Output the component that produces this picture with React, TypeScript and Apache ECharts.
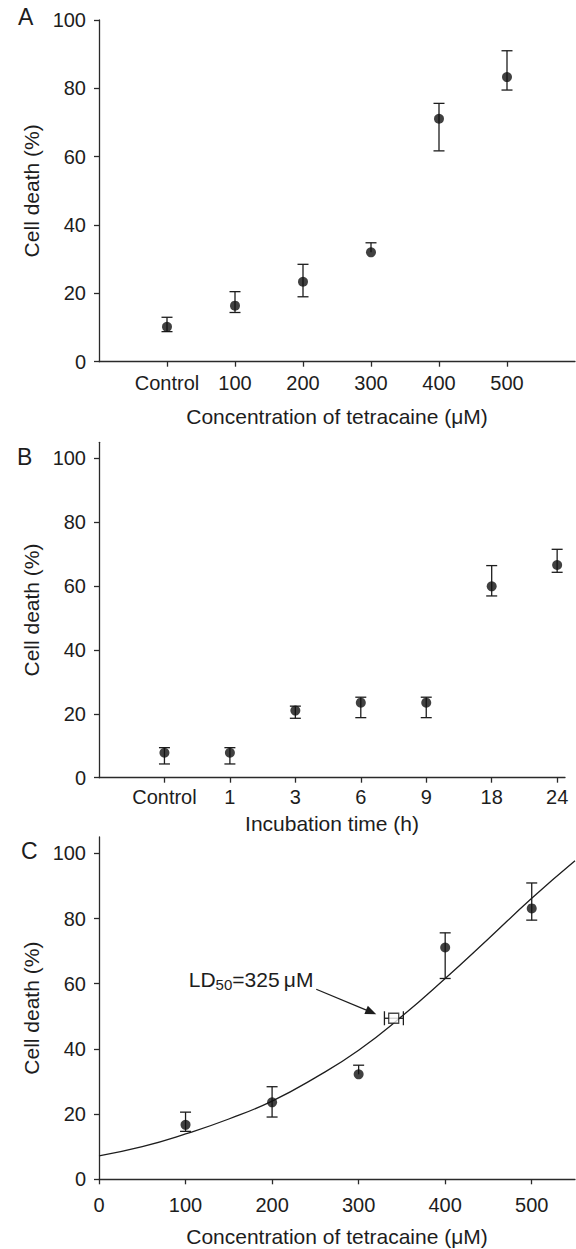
import React, { useEffect, useRef } from "react";
import * as echarts from "echarts";

// Panel A: concentration series
const catA = ["Control", "100", "200", "300", "400", "500"];
const meanA = [10.2, 16.4, 23.4, 32.0, 71.1, 83.3];
const lowA = [8.8, 14.4, 19.0, 32.0, 61.7, 79.5];
const highA = [13.0, 20.5, 28.5, 34.8, 75.6, 91.0];

// Panel B: incubation time series
const catB = ["Control", "1", "3", "6", "9", "18", "24"];
const meanB = [7.8, 7.8, 21.0, 23.5, 23.5, 59.9, 66.6];
const lowB = [4.3, 4.3, 18.6, 18.8, 18.8, 56.9, 64.3];
const highB = [9.4, 9.4, 22.4, 25.2, 25.2, 66.4, 71.5];

// Panel C: dose-response with fitted curve
const concC = [100, 200, 300, 400, 500];
const meanC = [16.7, 23.6, 32.2, 71.1, 83.1];
const lowC = [14.7, 19.1, 32.2, 61.6, 79.5];
const highC = [20.6, 28.4, 35.0, 75.6, 90.9];
const fitX = [0, 50, 100, 150, 200, 250, 300, 350, 400, 450, 500, 550];
const fitY = [7.2, 10.0, 13.9, 18.5, 24.0, 31.2, 39.6, 50.0, 61.6, 73.8, 86.2, 97.7];
const ld50 = { x: 340.5, y: 49.4, lo: 329.8, hi: 351.7 };
const yTicks = [0, 20, 40, 60, 80, 100];
const xTicksC = [0, 100, 200, 300, 400, 500];

const INK = "#1d1d1d";
const DOT = "#111";
const FONT = "Liberation Sans";

const vErr = (params: any, api: any) => {
  const x = api.value(0);
  const y = api.value(1);
  const lo = api.value(2);
  const hi = api.value(3);
  const pLo = api.coord([x, lo]);
  const pHi = api.coord([x, hi]);
  const w = 5.5;
  const style = { stroke: INK, lineWidth: 1.3 };
  const children: any[] = [
    { type: "line", shape: { x1: pLo[0], y1: pLo[1], x2: pHi[0], y2: pHi[1] }, style },
  ];
  if (hi > y) children.push({ type: "line", shape: { x1: pHi[0] - w, y1: pHi[1], x2: pHi[0] + w, y2: pHi[1] }, style });
  if (lo < y) children.push({ type: "line", shape: { x1: pLo[0] - w, y1: pLo[1], x2: pLo[0] + w, y2: pLo[1] }, style });
  return { type: "group", children };
};

const hErr = (params: any, api: any) => {
  const lo = api.value(0);
  const hi = api.value(1);
  const y = api.value(2);
  const pLo = api.coord([lo, y]);
  const pHi = api.coord([hi, y]);
  const h = 7;
  const style = { stroke: INK, lineWidth: 1.3 };
  return {
    type: "group",
    children: [
      { type: "line", shape: { x1: pLo[0], y1: pLo[1], x2: pHi[0], y2: pHi[1] }, style },
      { type: "line", shape: { x1: pLo[0], y1: pLo[1] - h, x2: pLo[0], y2: pLo[1] + h }, style },
      { type: "line", shape: { x1: pHi[0], y1: pHi[1] - h, x2: pHi[0], y2: pHi[1] + h }, style },
    ],
  };
};

const axisLineStyle = { color: "#2a2a2a", width: 1.3 };
const labelStyle = { color: INK, fontFamily: FONT, fontSize: 20 };
const nameStyle = { color: INK, fontFamily: FONT, fontSize: 21 };

export default function App() {
  const ref = useRef<HTMLDivElement>(null);
  useEffect(() => {
    document.body.style.margin = "0";
    if (!ref.current) return;
    const chart = echarts.init(ref.current, undefined, { renderer: "svg" });

    const yAxisBase = (gridIndex: number, max: number, gap: number) => ({
      type: "value",
      gridIndex,
      min: 0,
      max,
      name: "Cell death (%)",
      nameLocation: "middle",
      nameGap: gap,
      nameTextStyle: nameStyle,
      axisLine: { show: true, lineStyle: axisLineStyle },
      axisTick: { show: true, length: 5, lineStyle: axisLineStyle, customValues: yTicks },
      axisLabel: { ...labelStyle, margin: 13, customValues: yTicks },
      splitLine: { show: false },
    });

    const option: any = {
      animation: false,
      backgroundColor: "#fff",
      grid: [
        { left: 99, top: 20, width: 476, height: 341.7 },
        { left: 99, top: 442.3, width: 466, height: 335.4 },
        { left: 99, top: 837, width: 476, height: 342.3 },
      ],
      graphic: [
        { type: "text", left: 18, top: 5, style: { text: "A", fontSize: 23, fontFamily: FONT, fill: INK } },
        { type: "text", left: 17, top: 445, style: { text: "B", fontSize: 23, fontFamily: FONT, fill: INK } },
        { type: "text", left: 21, top: 839, style: { text: "C", fontSize: 23, fontFamily: FONT, fill: INK } },
      ],
      xAxis: [
        {
          type: "value",
          gridIndex: 0,
          min: 0,
          max: 7,
          name: "Concentration of tetracaine (μM)",
          nameLocation: "middle",
          nameGap: 44,
          nameTextStyle: nameStyle,
          axisLine: { lineStyle: axisLineStyle },
          axisTick: { length: 5, lineStyle: axisLineStyle, customValues: [1, 2, 3, 4, 5, 6] },
          axisLabel: {
            ...labelStyle,
            margin: 11,
            customValues: [1, 2, 3, 4, 5, 6],
            formatter: (v: number) => catA[Math.round(v) - 1] ?? "",
          },
          splitLine: { show: false },
        },
        {
          type: "value",
          gridIndex: 1,
          min: 0,
          max: 7.12,
          name: "Incubation time (h)",
          nameLocation: "middle",
          nameGap: 35,
          nameTextStyle: nameStyle,
          axisLine: { lineStyle: axisLineStyle },
          axisTick: { length: 5, lineStyle: axisLineStyle, customValues: [1, 2, 3, 4, 5, 6, 7] },
          axisLabel: {
            ...labelStyle,
            margin: 9,
            customValues: [1, 2, 3, 4, 5, 6, 7],
            formatter: (v: number) => catB[Math.round(v) - 1] ?? "",
          },
          splitLine: { show: false },
        },
        {
          type: "value",
          gridIndex: 2,
          min: 0,
          max: 550,
          name: "Concentration of tetracaine (μM)",
          nameLocation: "middle",
          nameGap: 47,
          nameTextStyle: nameStyle,
          axisLine: { lineStyle: axisLineStyle },
          axisTick: { length: 5, lineStyle: axisLineStyle, customValues: xTicksC },
          axisLabel: { ...labelStyle, margin: 16, customValues: xTicksC },
          splitLine: { show: false },
        },
      ],
      yAxis: [yAxisBase(0, 100, 48), yAxisBase(1, 105, 48), yAxisBase(2, 105, 48)],
      series: [
        // Panel A
        {
          type: "custom",
          xAxisIndex: 0,
          yAxisIndex: 0,
          renderItem: vErr,
          encode: { x: 0, y: [2, 3] },
          data: catA.map((_, i) => [i + 1, meanA[i], lowA[i], highA[i]]),
          z: 3,
          silent: true,
        },
        {
          type: "scatter",
          xAxisIndex: 0,
          yAxisIndex: 0,
          symbolSize: 10,
          itemStyle: { color: DOT },
          data: catA.map((_, i) => [i + 1, meanA[i]]),
          z: 4,
          silent: true,
        },
        // Panel B
        {
          type: "custom",
          xAxisIndex: 1,
          yAxisIndex: 1,
          renderItem: vErr,
          encode: { x: 0, y: [2, 3] },
          data: catB.map((_, i) => [i + 1, meanB[i], lowB[i], highB[i]]),
          z: 3,
          silent: true,
        },
        {
          type: "scatter",
          xAxisIndex: 1,
          yAxisIndex: 1,
          symbolSize: 10,
          itemStyle: { color: DOT },
          data: catB.map((_, i) => [i + 1, meanB[i]]),
          z: 4,
          silent: true,
        },
        // Panel C
        {
          type: "line",
          xAxisIndex: 2,
          yAxisIndex: 2,
          smooth: true,
          showSymbol: false,
          symbol: "none",
          lineStyle: { color: INK, width: 1.3 },
          data: fitX.map((x, i) => [x, fitY[i]]),
          z: 2,
          silent: true,
          markLine: {
            silent: true,
            symbol: ["none", "triangle"],
            symbolSize: [9, 11],
            label: { show: false },
            lineStyle: { color: INK, width: 1.3, type: "solid" },
            itemStyle: { color: INK },
            data: [[{ coord: [251, 58.3] }, { coord: [314.5, 51.3] }]],
          },
          markPoint: {
            silent: true,
            symbol: "circle",
            symbolSize: 1,
            itemStyle: { color: "rgba(0,0,0,0)" },
            label: {
              show: true,
              position: "inside",
              formatter: "{a|LD}{b|50}{a|=325\u2009μM}",
              rich: {
                a: { fontSize: 21, lineHeight: 26, fontFamily: FONT, color: INK },
                b: { fontSize: 15, lineHeight: 15, verticalAlign: "bottom", fontFamily: FONT, color: INK },
              },
            },
            data: [{ coord: [175.7, 61.4] }],
          },
        },
        {
          type: "custom",
          xAxisIndex: 2,
          yAxisIndex: 2,
          renderItem: vErr,
          encode: { x: 0, y: [2, 3] },
          data: concC.map((x, i) => [x, meanC[i], lowC[i], highC[i]]),
          z: 3,
          silent: true,
        },
        {
          type: "scatter",
          xAxisIndex: 2,
          yAxisIndex: 2,
          symbolSize: 10,
          itemStyle: { color: DOT },
          data: concC.map((x, i) => [x, meanC[i]]),
          z: 4,
          silent: true,
        },
        {
          type: "custom",
          xAxisIndex: 2,
          yAxisIndex: 2,
          renderItem: hErr,
          encode: { x: [0, 1], y: 2 },
          data: [[ld50.lo, ld50.hi, ld50.y]],
          z: 3,
          silent: true,
        },
        {
          type: "scatter",
          xAxisIndex: 2,
          yAxisIndex: 2,
          symbol: "rect",
          symbolSize: 10,
          itemStyle: { color: "#fff", borderColor: INK, borderWidth: 1.3 },
          data: [[ld50.x, ld50.y]],
          z: 5,
          silent: true,
        },
      ],
    };
    chart.setOption(option);
    return () => chart.dispose();
  }, []);
  return <div ref={ref} style={{ width: 576, height: 1249 }} />;
}
